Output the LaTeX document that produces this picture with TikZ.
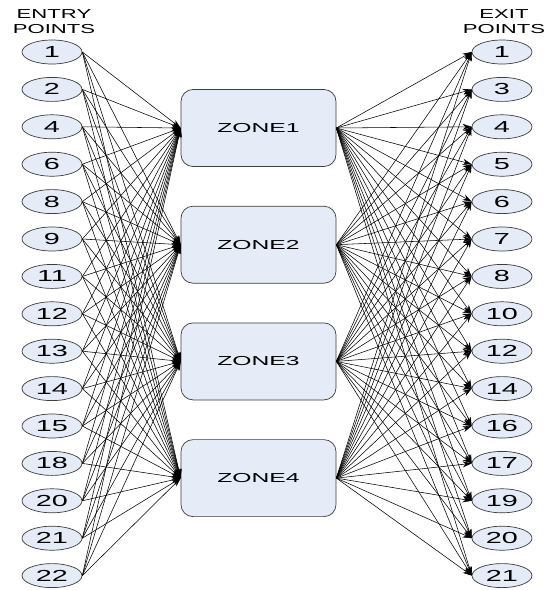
\documentclass[tikz,border=0pt]{standalone}
\usepackage{fontspec}
\setmainfont{Liberation Sans}
\usepackage{graphicx}
\usetikzlibrary{arrows.meta,shapes.geometric}
\definecolor{nodefill}{RGB}{230,236,247}
\definecolor{nodeedge}{RGB}{60,60,60}
\newcommand{\wtext}[2][1.8]{\scalebox{#1}[1]{#2}}
\tikzset{
  pt/.style={ellipse, draw=nodeedge, fill=nodefill, line width=0.7pt,
    minimum width=60pt, minimum height=24pt, inner sep=0pt,
    font=\fontsize{16}{16}\selectfont},
  zonebox/.style={draw=nodeedge, fill=nodefill, rounded corners=12pt, line width=0.7pt,
    minimum width=155pt, minimum height=77pt, inner sep=0pt,
    font=\fontsize{13}{13}\selectfont},
  hdr/.style={font=\fontsize{13}{13}\selectfont, inner sep=0pt},
  conn/.style={-{Stealth[length=9pt,width=6pt]}, line width=0.55pt, black},
}
\begin{document}
\begin{tikzpicture}[x=1pt,y=-1pt]
\useasboundingbox (0,0) rectangle (548,590);
\node[hdr] (eh1) at (54,14.5) {\wtext[1.7]{ENTRY}};
\node[hdr] (eh2) at (54,29) {\wtext[1.7]{POINTS}};
\node[hdr] (xh1) at (504,14.5) {\wtext[1.7]{EXIT}};
\node[hdr] (xh2) at (504,29) {\wtext[1.7]{POINTS}};
\foreach \lab [count=\i from 0] in {1,2,4,6,8,9,11,12,13,14,15,18,20,21,22}
  \node[pt] (en\i) at (52,{52+37.4*\i}) {\wtext{\lab}};
\foreach \lab [count=\i from 0] in {1,3,4,5,6,7,8,10,12,14,16,17,19,20,21}
  \node[pt] (ex\i) at (502,{52+37.4*\i}) {\wtext{\lab}};
\foreach \z [count=\j from 0] in {1,2,3,4}
  \node[zonebox] (z\z) at (258.5,{128+116.7*\j}) {\wtext[1.9]{ZONE\z}};
\foreach \i in {0,...,14}
  \foreach \z in {1,2,3,4}
    \draw[conn] (en\i.east) -- (z\z.west);
\foreach \i in {0,...,14}
  \foreach \z in {1,2,3,4}
    \draw[conn] (z\z.east) -- (ex\i.west);
\end{tikzpicture}
\end{document}
